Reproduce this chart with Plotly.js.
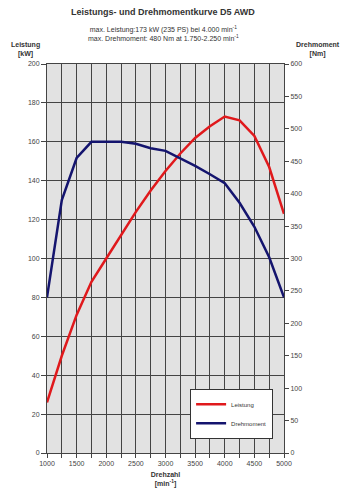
<!DOCTYPE html>
<html>
<head>
<meta charset="utf-8">
<script src="https://cdn.plot.ly/plotly-3.0.1.min.js"></script>
<style>html,body{margin:0;padding:0;background:#fff;}#chart{width:353px;height:500px;}</style>
</head>
<body>
<div id="chart"></div>
<script>
var rpm = [1000,1250,1500,1750,2000,2250,2500,2750,3000,3250,3500,3750,4000,4250,4500,4750,5000];
var leistungKW = [26,50,71,88,100,112,124,135,145,154,162,168,173,171,163,147,123];
var drehmomentNm = [240,390,455,480,480,480,477,470,466,455,443,430,416,386,349,302,240];
var titleText = '<b>Leistungs- und Drehmomentkurve D5 AWD</b>';
var subText = 'max. Leistung:173 kW (235 PS) bei 4.000 min<sup>-1</sup><br>max. Drehmoment: 480 Nm at 1.750-2.250 min<sup>-1</sup>';

var font = 'Liberation Sans, Arial, sans-serif';
var traces = [
  {x: rpm, y: leistungKW, name: 'Leistung', type: 'scatter', mode: 'lines',
   line: {color: '#e0191c', width: 2.5}, yaxis: 'y'},
  {x: rpm, y: drehmomentNm, name: 'Drehmoment', type: 'scatter', mode: 'lines',
   line: {color: '#14146e', width: 2.5}, yaxis: 'y2'}
];
var layout = {
  width: 353, height: 500,
  margin: {l: 47, r: 69, t: 64, b: 47},
  paper_bgcolor: '#ffffff', plot_bgcolor: '#e2e2e2',
  font: {family: font, size: 7, color: '#333'},
  showlegend: true,
  legend: {x: 0.954, xanchor: 'right', y: 0.165, yanchor: 'top',
    bgcolor: '#ffffff', bordercolor: '#333', borderwidth: 1,
    font: {size: 6, family: font, color: '#333'}, itemwidth: 30, tracegroupgap: 0},
  xaxis: {range: [1000, 5000], dtick: 500, tick0: 1000, showgrid: true, gridcolor: '#444', gridwidth: 1,
    ticks: 'outside', ticklen: 4, tickcolor: '#444', zeroline: false,
    showline: true, linecolor: '#444', mirror: true,
    minor: {dtick: 250, showgrid: true, gridcolor: '#444', gridwidth: 1, ticks: 'outside', ticklen: 4, tickcolor: '#444'},
    tickfont: {size: 7, color: '#444'},
    title: {text: '<b>Drehzahl<br>[min<sup>-1</sup>]</b>', font: {size: 7, color: '#333'}, standoff: 5}},
  yaxis: {range: [0, 200], dtick: 20, showgrid: true, gridcolor: '#444', gridwidth: 1,
    ticks: 'outside', ticklen: 5, tickcolor: '#444', zeroline: false,
    showline: true, linecolor: '#444',
    tickfont: {size: 7, color: '#444'}},
  yaxis2: {range: [0, 600], dtick: 50, overlaying: 'y', side: 'right', showgrid: false,
    ticks: 'outside', ticklen: 4, tickcolor: '#444', zeroline: false,
    showline: true, linecolor: '#444',
    tickfont: {size: 7, color: '#444'}},
  annotations: [
    {text: titleText, xref: 'paper', yref: 'paper', x: 0.49, y: 1, yshift: 52, showarrow: false,
     xanchor: 'center', yanchor: 'middle', font: {size: 9, family: font, color: '#333'}},
    {text: subText, xref: 'paper', yref: 'paper', x: 0.49, y: 1, yshift: 31, showarrow: false,
     xanchor: 'center', yanchor: 'middle', font: {size: 7, family: font, color: '#333'}},
    {text: '<b>Leistung<br>[kW]</b>', xref: 'paper', yref: 'paper', x: 0, xshift: -22, y: 1, yshift: 15, showarrow: false,
     xanchor: 'center', yanchor: 'middle', font: {size: 7, family: font, color: '#333'}},
    {text: '<b>Drehmoment<br>[Nm]</b>', xref: 'paper', yref: 'paper', x: 1, xshift: 34, y: 1, yshift: 15, showarrow: false,
     xanchor: 'center', yanchor: 'middle', font: {size: 7, family: font, color: '#333'}}
  ]
};
Plotly.newPlot('chart', traces, layout, {displayModeBar: false, staticPlot: true});
</script>
</body>
</html>
